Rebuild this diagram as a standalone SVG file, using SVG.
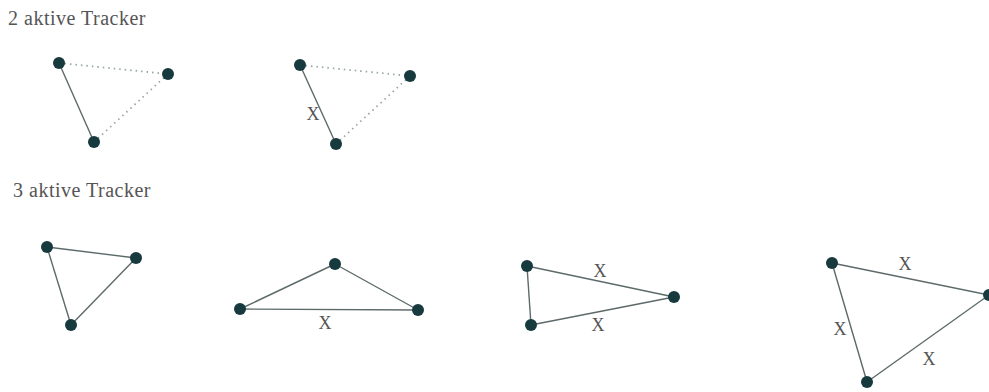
<svg xmlns="http://www.w3.org/2000/svg" width="989" height="392" viewBox="0 0 989 392">
<style>
.n{fill:#163a3e}
.e{stroke:#5e6a6a;stroke-width:1.4;fill:none}
.d{stroke:#9aa6a6;stroke-width:1.8;stroke-dasharray:1.5 4;fill:none}
.t{font-family:"Liberation Serif",serif;font-size:20px;letter-spacing:0.5px;fill:#555}
.x{font-family:"Liberation Serif",serif;font-size:18px;fill:#555;text-anchor:middle}
</style>
<rect width="989" height="392" fill="#fff"/>
<text class="t" x="8" y="25">2 aktive Tracker</text>
<text class="t" x="13" y="197">3 aktive Tracker</text>
<g id="connectors">
<line class="e" x1="59" y1="63" x2="94" y2="142"/>
<line class="d" x1="59" y1="63" x2="168" y2="74"/>
<line class="d" x1="168" y1="74" x2="94" y2="142"/>
<line class="e" x1="300" y1="65" x2="336" y2="144"/>
<line class="d" x1="300" y1="65" x2="410" y2="76"/>
<line class="d" x1="410" y1="76" x2="336" y2="144"/>
<text class="x" x="313" y="120">X</text>
<line class="e" x1="47" y1="247" x2="136" y2="258"/>
<line class="e" x1="136" y1="258" x2="71" y2="325"/>
<line class="e" x1="71" y1="325" x2="47" y2="247"/>
<line class="e" x1="240" y1="309" x2="335" y2="264"/>
<line class="e" x1="335" y1="264" x2="418" y2="310"/>
<line class="e" x1="240" y1="309" x2="418" y2="310"/>
<text class="x" x="325" y="329">X</text>
<line class="e" x1="527" y1="266" x2="674" y2="297"/>
<line class="e" x1="674" y1="297" x2="531" y2="325"/>
<line class="e" x1="527" y1="266" x2="531" y2="325"/>
<text class="x" x="600" y="277">X</text>
<text class="x" x="598" y="331">X</text>
<line class="e" x1="832" y1="263" x2="989" y2="295"/>
<line class="e" x1="989" y1="295" x2="867" y2="382"/>
<line class="e" x1="832" y1="263" x2="867" y2="382"/>
<text class="x" x="905" y="270">X</text>
<text class="x" x="840" y="335">X</text>
<text class="x" x="929" y="365">X</text>
</g>
<g id="n1a"><circle class="n" cx="59" cy="63" r="6"/></g>
<g id="n1b"><circle class="n" cx="168" cy="74" r="6"/></g>
<g id="n1c"><circle class="n" cx="94" cy="142" r="6"/></g>
<g id="n2a"><circle class="n" cx="300" cy="65" r="6"/></g>
<g id="n2b"><circle class="n" cx="410" cy="76" r="6"/></g>
<g id="n2c"><circle class="n" cx="336" cy="144" r="6"/></g>
<g id="n3a"><circle class="n" cx="47" cy="247" r="6"/></g>
<g id="n3b"><circle class="n" cx="136" cy="258" r="6"/></g>
<g id="n3c"><circle class="n" cx="71" cy="325" r="6"/></g>
<g id="n4a"><circle class="n" cx="240" cy="309" r="6"/></g>
<g id="n4b"><circle class="n" cx="335" cy="264" r="6"/></g>
<g id="n4c"><circle class="n" cx="418" cy="310" r="6"/></g>
<g id="n5a"><circle class="n" cx="527" cy="266" r="6"/></g>
<g id="n5b"><circle class="n" cx="674" cy="297" r="6"/></g>
<g id="n5c"><circle class="n" cx="531" cy="325" r="6"/></g>
<g id="n6a"><circle class="n" cx="832" cy="263" r="6"/></g>
<g id="n6b"><circle class="n" cx="989" cy="295" r="6"/></g>
<g id="n6c"><circle class="n" cx="867" cy="382" r="6"/></g>
</svg>
